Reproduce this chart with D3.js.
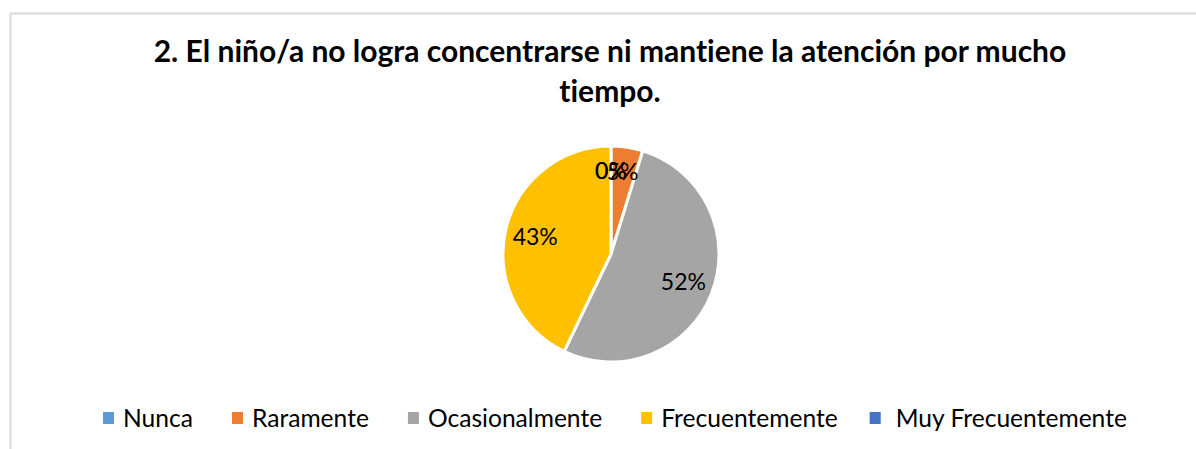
<!DOCTYPE html>
<html>
<head>
<meta charset="utf-8">
<script src="https://cdn.jsdelivr.net/npm/d3@7"></script>
<style>
  body { margin: 0; background: #fff; }
  svg { display: block; font-family: Lato, "Open Sans", sans-serif; font-variant-ligatures: none; }
</style>
</head>
<body>
<svg id="drawing_region"></svg>
<script>
// categories and counts (21 answers in total)
const categories = ['Nunca', 'Raramente', 'Ocasionalmente', 'Frecuentemente', 'Muy Frecuentemente'];
const counts = [0, 1, 11, 9, 0];
const colors = ['#5B9BD5', '#ED7D31', '#A5A5A5', '#FFC000', '#4472C4'];
const titleLines = ['2. El niño/a no logra concentrarse ni mantiene la atención por mucho', 'tiempo.'];

const W = 1196, H = 449;
const svg = d3.select('#drawing_region')
    .attr('width', W)
    .attr('height', H);

// chart area border (runs off the right and bottom of the picture)
svg.append('rect')
    .attr('x', 10.5).attr('y', 13.5)
    .attr('width', W + 20).attr('height', H + 20)
    .attr('fill', '#fff')
    .attr('stroke', '#d9d9d9')
    .attr('stroke-width', 2);

// title
svg.append('text')
    .attr('text-anchor', 'middle')
    .attr('font-weight', 'bold')
    .attr('font-size', 30)
    .attr('fill', '#000')
    .selectAll('tspan')
    .data(titleLines)
    .join('tspan')
    .attr('x', 610)
    .attr('y', (d, i) => 62 + i * 40)
    .text(d => d);

// pie
const cx = 611, cy = 254, r = 108;
const data = categories.map((c, i) => ({ cat: c, value: counts[i], color: colors[i] }));
const total = d3.sum(counts);

const pie = d3.pie().sort(null).value(d => d.value);
const arc = d3.arc().innerRadius(0).outerRadius(r);
const labelArc = d3.arc().innerRadius(r * 0.72).outerRadius(r * 0.72);

const g = svg.append('g').attr('transform', `translate(${cx}, ${cy})`);
const arcs = pie(data);

g.selectAll('path')
    .data(arcs)
    .join('path')
    .attr('d', arc)
    .attr('fill', d => d.data.color)
    .attr('stroke', '#fff')
    .attr('stroke-width', d => d.data.value > 0 ? 3 : 0)
    .attr('stroke-linejoin', 'round');

g.selectAll('text')
    .data(arcs)
    .join('text')
    .attr('transform', d => {
        const [x, y] = labelArc.centroid(d);
        // small slices sit a bit higher, as in the original
        return `translate(${x}, ${d.data.value / total < 0.1 ? y - 5 : y})`;
    })
    .attr('text-anchor', 'middle')
    .attr('dy', '0.35em')
    .attr('font-size', 23)
    .attr('fill', '#000')
    .text(d => Math.round(d.data.value / total * 100) + '%');

// legend
const legend = svg.append('g').attr('transform', 'translate(103, 427)');
let lx = 0;
data.forEach((d, i) => {
    const item = legend.append('g').attr('transform', `translate(${lx}, 0)`);
    const off = i === 4 ? 26 : 20;
    item.append('rect')
        .attr('x', 0).attr('y', -15)
        .attr('width', 11).attr('height', 12)
        .attr('fill', d.color);
    const t = item.append('text')
        .attr('x', off)
        .attr('font-size', 24.6)
        .attr('fill', '#000')
        .text(d.cat);
    lx += off + t.node().getComputedTextLength() + (i === 3 ? 32 : 39);
});
</script>
</body>
</html>
